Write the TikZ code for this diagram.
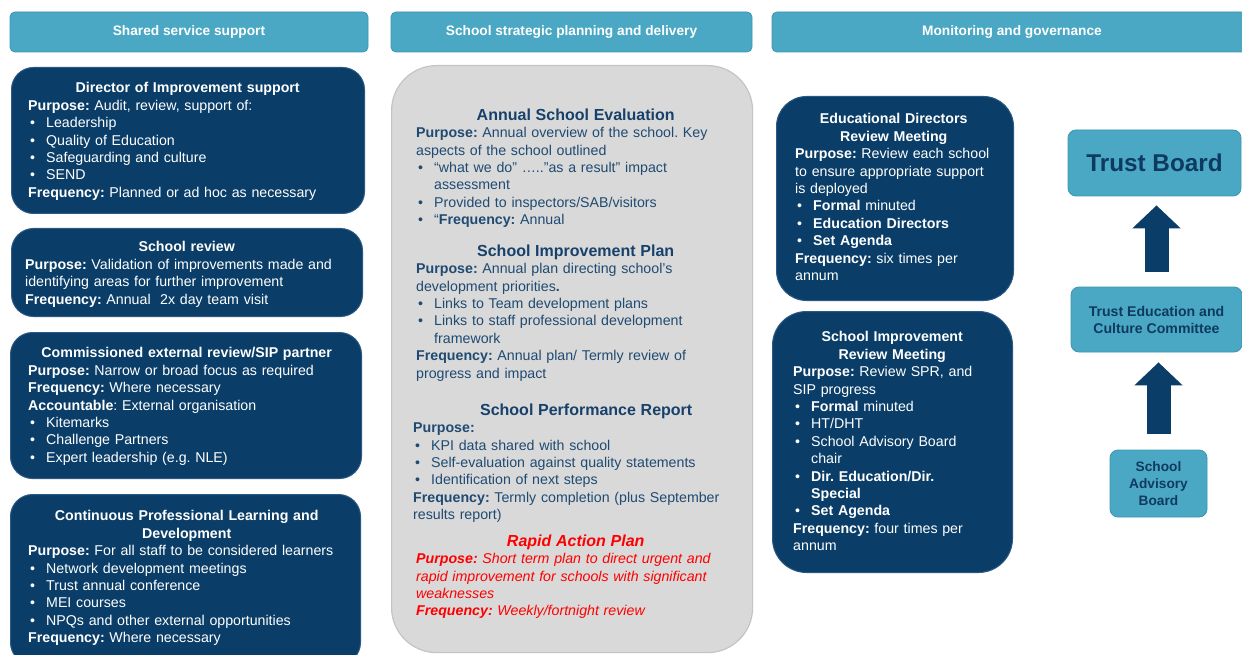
\documentclass[tikz,border=0pt]{standalone}
\usepackage{fontspec}
\setmainfont{Liberation Sans}
\usetikzlibrary{arrows.meta}
\frenchspacing
\definecolor{navy}{HTML}{0A3E68}
\definecolor{navyedge}{HTML}{2A5A84}
\definecolor{lblue}{HTML}{4BA8C4}
\definecolor{lbedge}{HTML}{3A95B0}
\definecolor{mgrey}{HTML}{D9D9D9}
\definecolor{mgedge}{HTML}{C4C4C4}
\definecolor{mtext}{HTML}{1F4A72}
\definecolor{mtitle}{HTML}{17416A}
\definecolor{dtext}{HTML}{0E3A60}
\definecolor{rapred}{HTML}{FF0000}
\newcommand\btitle[1]{{\centering\bfseries #1\par}}
\newcommand\mtitlefmt[1]{{\centering\fontsize{16}{18.5}\selectfont\bfseries #1\par}}
\newcommand\bl[1]{\par\hangindent=18pt\hangafter=1\noindent\makebox[18pt][l]{\hspace{2pt}\textbullet}#1\par}
\tikzset{
  x=1pt, y=1pt,
  navybox/.style={draw=navyedge, line width=1pt, fill=navy, rounded corners=#1, anchor=north west, inner sep=0pt},
  navybox/.default=22pt,
  headbox/.style={draw=lbedge, line width=0.8pt, fill=lblue, rounded corners=5pt, inner sep=0pt, text=white,
     font=\fontsize{13.7}{16}\selectfont\bfseries},
  lbbox/.style={draw=lbedge, line width=0.8pt, fill=lblue, rounded corners=8pt, inner sep=0pt, text=dtext, align=center},
  greybox/.style={draw=mgedge, line width=1.2pt, fill=mgrey, rounded corners=45pt, anchor=north west, inner sep=0pt},
  body/.style={inner sep=0pt, anchor=north west, text width=#1, align=left,
     font=\fontsize{14.2}{17.4}\selectfont\setlength\parindent{0pt}\frenchspacing},
  blockarrow/.style={draw=navy, line width=24pt, -{Triangle[width=47pt,length=23pt]}}
}
\begin{document}
\begin{tikzpicture}
\useasboundingbox (0,0) rectangle (1242,-655);
\clip (0,0) rectangle (1242,-655);
\fill[white] (0,0) rectangle (1242,-655);

% headers
\node[headbox, minimum width=358pt, minimum height=40pt] (h1) at (189,-32) {Shared service support};
\node[headbox, minimum width=361pt, minimum height=40pt] (h2) at (571.5,-32) {School strategic planning and delivery};
\node[headbox, minimum width=480pt, minimum height=40pt] (h3) at (1012,-32) {Monitoring and governance};

% left column
\node[navybox, minimum width=353pt, minimum height=146pt] (b1) at (11,-67) {};
\node[body=319pt, text=white] (b1t) at (28,-82.5) {%
\btitle{Director of Improvement support}
\textbf{Purpose:} Audit, review, support of:
\bl{Leadership}
\bl{Quality of Education}
\bl{Safeguarding and culture}
\bl{SEND}
\textbf{Frequency:} Planned or ad hoc as necessary};

\node[navybox, minimum width=351pt, minimum height=88pt] (b2) at (11,-228) {};
\node[body=323pt, text=white] (b2t) at (25,-241.5) {%
\btitle{School review}
\textbf{Purpose:} Validation of improvements made and\\ identifying areas for further improvement\par
\textbf{Frequency:} Annual\ \ 2x day team visit};

\node[navybox, minimum width=351pt, minimum height=146pt] (b3) at (10,-332) {};
\node[body=317pt, text=white] (b3t) at (28,-347.5) {%
\btitle{Commissioned external review/SIP partner}
\textbf{Purpose:} Narrow or broad focus as required\par
\textbf{Frequency:} Where necessary\par
\textbf{Accountable}: External organisation
\bl{Kitemarks}
\bl{Challenge Partners}
\bl{Expert leadership (e.g. NLE)}};

\node[navybox, minimum width=350pt, minimum height=170pt] (b4) at (10,-494) {};
\node[body=317pt, text=white] (b4t) at (28,-510.5) {%
\btitle{Continuous Professional Learning and\\ Development}
\textbf{Purpose:} For all staff to be considered learners
\bl{Network development meetings}
\bl{Trust annual conference}
\bl{MEI courses}
\bl{NPQs and other external opportunities}
\textbf{Frequency:} Where necessary};

% middle column
\node[greybox, minimum width=361pt, minimum height=587pt] (mid) at (391,-65) {};
\node[body=319pt, text=mtext] (m1) at (416,-108.5) {%
\mtitlefmt{\color{mtitle}Annual School Evaluation}
\textbf{Purpose:} Annual overview of the school. Key\\ aspects of the school outlined
\bl{“what we do” …..”as a result” impact\newline assessment}
\bl{Provided to inspectors/SAB/visitors}
\bl{“\textbf{Frequency:} Annual}};

\node[body=319pt, text=mtext] (m2) at (416,-244.5) {%
\mtitlefmt{\color{mtitle}School Improvement Plan}
\textbf{Purpose:} Annual plan directing school’s\\ development priorities\textbf{.}
\bl{Links to Team development plans}
\bl{Links to staff professional development\newline framework}
\textbf{Frequency:} Annual plan/ Termly review of\\ progress and impact};

\node[body=346pt, text=mtext] (m3) at (413,-403.5) {%
\mtitlefmt{\color{mtitle}School Performance Report}
\textbf{Purpose:}
\bl{KPI data shared with school}
\bl{Self-evaluation against quality statements}
\bl{Identification of next steps}
\textbf{Frequency:} Termly completion (plus September\\ results report)};

\node[body=319pt, text=rapred] (m4) at (416,-534.5) {%
\mtitlefmt{\itshape Rapid Action Plan}
\itshape\textbf{Purpose:} Short term plan to direct urgent and\\ rapid improvement for schools with significant\\ weaknesses\par
\textbf{Frequency:} Weekly/fortnight review};

% right column
\node[navybox=30pt, minimum width=237pt, minimum height=204pt] (ed) at (776,-96) {};
\node[body=197pt, text=white] (edt) at (795,-113.5) {%
\btitle{Educational Directors\\ Review Meeting}
\textbf{Purpose:} Review each school\\ to ensure appropriate support\\ is deployed
\bl{\textbf{Formal} minuted}
\bl{\textbf{Education Directors}}
\bl{\textbf{Set Agenda}}
\textbf{Frequency:} six times per\\ annum};

\node[navybox=34pt, minimum width=240pt, minimum height=261pt] (si) at (772,-311) {};
\node[body=198pt, text=white] (sit) at (793,-331.5) {%
\btitle{School Improvement\\ Review Meeting}
\textbf{Purpose:} Review SPR, and\\ SIP progress
\bl{\textbf{Formal} minuted}
\bl{HT/DHT}
\bl{School Advisory Board\newline chair}
\bl{\textbf{Dir. Education/Dir.\newline Special}}
\bl{\textbf{Set Agenda}}
\textbf{Frequency:} four times per\\ annum};

% governance chain
\node[lbbox, minimum width=173pt, minimum height=66pt, font=\fontsize{24.3}{28}\selectfont\bfseries] (tb) at (1154.5,-163) {Trust Board};
\node[lbbox, minimum width=171pt, minimum height=65pt, font=\fontsize{14.1}{17}\selectfont\bfseries] (tecc) at (1156.5,-319.5) {Trust Education and\\ Culture Committee};
\node[lbbox, minimum width=97pt, minimum height=67pt, font=\fontsize{13.7}{17}\selectfont\bfseries] (sab) at (1158.5,-483.5) {School\\ Advisory\\ Board};

\draw[blockarrow, shorten <=15pt, shorten >=9pt] (tecc.north) -- (tecc.north |- tb.south);
\draw[blockarrow, shorten <=16pt, shorten >=10pt] (sab.north) -- (sab.north |- tecc.south);
\end{tikzpicture}
\end{document}
